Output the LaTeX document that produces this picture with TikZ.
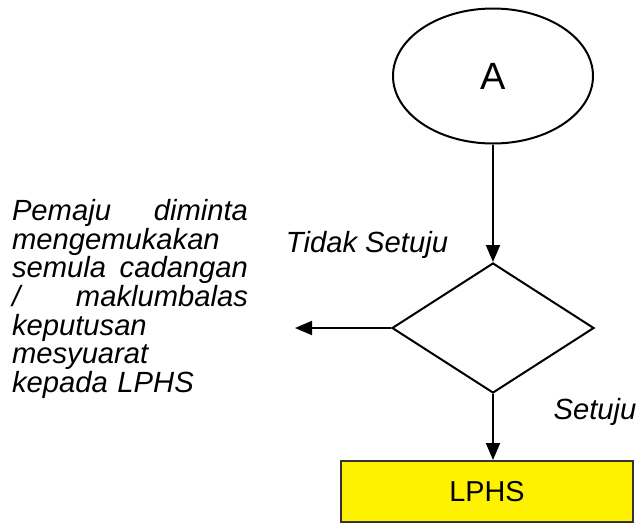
\documentclass[tikz,border=0pt]{standalone}
\usepackage{fontspec}
\setmainfont{Liberation Sans}
\usetikzlibrary{shapes.geometric,arrows.meta}

\begin{document}
\begin{tikzpicture}[>={Triangle[length=8.5pt,width=7pt]}, line width=1pt,
  lbl/.style={font=\fontsize{14.6}{14.35}\selectfont\itshape}]
\useasboundingbox (0,0) rectangle (319.5pt,-263pt);
\node[draw, ellipse, minimum width=100pt, minimum height=67.5pt, inner sep=0pt,
  font=\fontsize{19}{21}\selectfont] (start) at (246.5pt,-38pt) {A};
\node[draw, diamond, minimum width=101pt, minimum height=65pt, inner sep=0pt,
  below of=start, node distance=126pt] (check) {};
\node[draw=black!80, fill=yellow, minimum width=146pt, minimum height=30.5pt,
  font=\fontsize{14.4}{16}\selectfont, below of=check, node distance=81.75pt,
  xshift=-3pt] (lphs) {LPHS};
\coordinate (back) at (147.5pt,-164pt);
\node[lbl, text width=118pt, align=left, inner sep=0pt] (note) at (65pt,-149.5pt)
  {Pemaju\hfill diminta\\mengemukakan\\semula\hfill cadangan\\/\hfill maklumbalas\\keputusan\\mesyuarat\\kepada LPHS};
\node[lbl] (no) at (183.5pt,-122.5pt) {Tidak Setuju};
\node[lbl] (yes) at (297.5pt,-206pt) {Setuju};
\draw[->] (start) -- (check);
\draw[->] (check.west) -- (back);
\draw[->] (check.south) -- (check.south |- lphs.north);
\end{tikzpicture}
\end{document}
